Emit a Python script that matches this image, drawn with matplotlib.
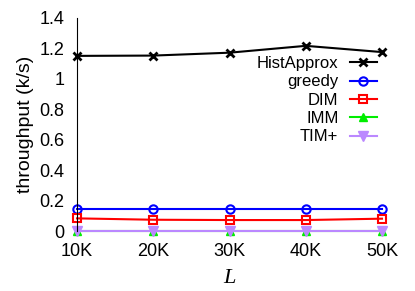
import matplotlib
matplotlib.use("Agg")
import matplotlib.pyplot as plt

# data
L_labels = ["10K", "20K", "30K", "40K", "50K"]
L_vals = [10, 20, 30, 40, 50]
histapprox = [1.151, 1.153, 1.172, 1.217, 1.176]
greedy = [0.143, 0.143, 0.143, 0.143, 0.143]
dim = [0.083, 0.074, 0.072, 0.072, 0.081]
imm = [0.002, 0.002, 0.002, 0.002, 0.002]
timplus = [0.001, 0.001, 0.001, 0.001, 0.001]

plt.rcParams["font.family"] = ["Liberation Sans", "DejaVu Sans"]

fig = plt.figure(figsize=(4.15, 2.91), dpi=100)
ax = fig.add_axes([77 / 415, 1 - 231 / 291, (382 - 77) / 415, (231 - 18) / 291])

ax.plot(L_vals, histapprox, color="black", marker="x", ms=6, mew=2, lw=1.5, label="HistApprox")
ax.plot(L_vals, greedy, color="#0000ff", marker="o", ms=6, mfc="none", mew=1.5, lw=1.5, label="greedy")
ax.plot(L_vals, dim, color="#ff0000", marker="s", ms=6, mfc="none", mew=1.5, lw=1.5, label="DIM")
ax.plot(L_vals, imm, color="#00ee00", marker="^", ms=6, lw=1.5, label="IMM")
ax.plot(L_vals, timplus, color="#bb88ff", marker="v", ms=7, lw=1.5, label="TIM+")

ax.set_xlim(10, 50)
ax.set_ylim(0, 1.4)
ax.set_xticks(L_vals)
ax.set_xticklabels(L_labels)
ax.set_yticks([0, 0.2, 0.4, 0.6, 0.8, 1.0, 1.2, 1.4])
ax.set_yticklabels(["0", "0.2", "0.4", "0.6", "0.8", "1", "1.2", "1.4"])
ax.tick_params(labelsize=13, length=0)
ax.tick_params(axis="x", pad=9)
ax.tick_params(axis="y", pad=9)
for s in ["top", "right", "bottom"]:
    ax.spines[s].set_visible(False)
for ln in ax.lines:
    ln.set_clip_on(False)

ax.set_ylabel("throughput (k/s)", fontsize=14, labelpad=4)
ax.set_xlabel("L", fontsize=16, family="Liberation Serif", style="italic", labelpad=6)

leg = ax.legend(loc="upper right", bbox_to_anchor=(1.01, 0.86), frameon=False, markerfirst=False,
                fontsize=12, handlelength=1.6, labelspacing=0.2, borderpad=0, handletextpad=0.7)
for t in leg.get_texts():
    t.set_ha("right")
leg._legend_box.align = "right"

fig.savefig("out.png", dpi=100)
